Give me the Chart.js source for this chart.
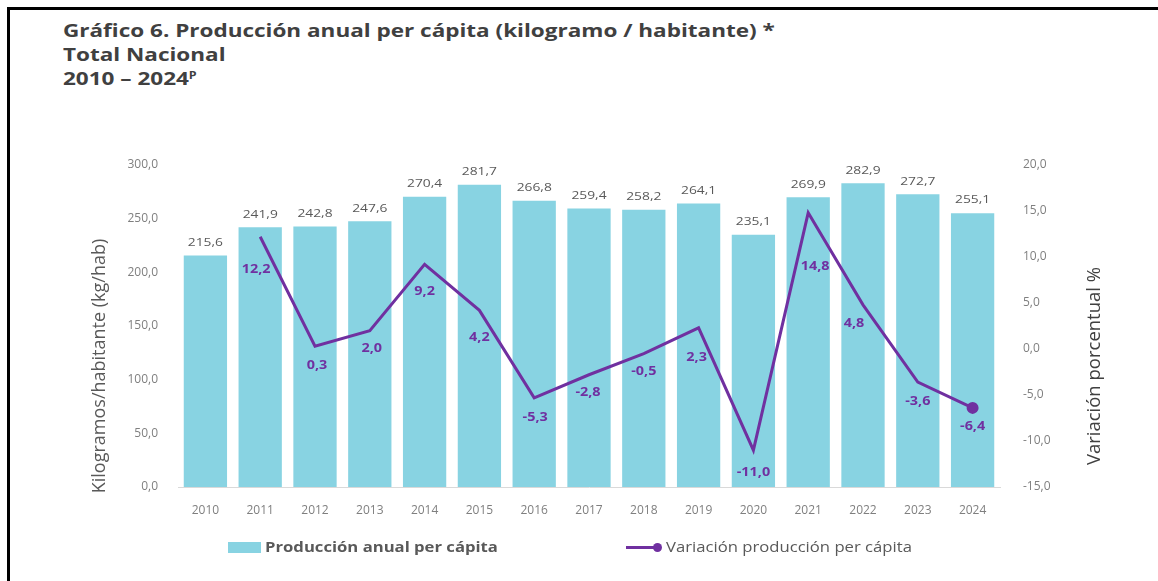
<!DOCTYPE html>
<html lang="es">
<head>
<meta charset="utf-8">
<title>Producción anual per cápita</title>
<script src="https://cdn.jsdelivr.net/npm/chart.js@4/dist/chart.umd.min.js"></script>
<style>
  html, body { margin: 0; padding: 0; background: #fff; }
  body { width: 1158px; height: 581px; position: relative; overflow: hidden; font-family: "Open Sans", sans-serif; }
  #frame { position: absolute; left: 7px; top: 7px; right: 0; bottom: 0; border-left: 3px solid #000; border-top: 3px solid #000; }
  #titulo { position: absolute; left: 63px; top: 18px; font-weight: bold; font-size: 18px; line-height: 24px; color: #404040;
            white-space: nowrap; transform: scaleX(1.25); transform-origin: 0 0; }
  #titulo sup { font-size: 10px; vertical-align: 6px; line-height: 0; }
  #chart { position: absolute; left: 0; top: 0; }
  .sw { position: absolute; }
  .txt { position: absolute; top: 537px; font-size: 14px; color: #595959; line-height: 20px; white-space: nowrap;
         transform: scaleX(1.19); transform-origin: 0 0; }
</style>
</head>
<body>
<div id="frame"></div>
<div id="titulo">Gráfico 6. Producción anual per cápita (kilogramo / habitante) *<br>Total Nacional<br>2010 – 2024<sup>P</sup></div>
<canvas id="chart" width="1158" height="581"></canvas>
<div class="sw" style="left:228px; top:542px; width:33px; height:11px; background:#88d3e2;"></div>
<div class="txt" style="left:265px; font-weight:bold;">Producción anual per cápita</div>
<div class="sw" style="left:626px; top:546px; width:31px; height:3px; background:#7030a0;"></div>
<div class="sw" style="left:653px; top:543px; width:9px; height:9px; border-radius:50%; background:#7030a0;"></div>
<div class="txt" style="left:666px;">Variación producción per cápita</div>
<script>
// --- Datos ---
const years = ['2010', '2011', '2012', '2013', '2014', '2015', '2016', '2017', '2018', '2019', '2020', '2021', '2022', '2023', '2024'];
const produccion = [215.6, 241.9, 242.8, 247.6, 270.4, 281.7, 266.8, 259.4, 258.2, 264.1, 235.1, 269.9, 282.9, 272.7, 255.1];
const variacion = [null, 12.2, 0.3, 2.0, 9.2, 4.2, -5.3, -2.8, -0.5, 2.3, -11.0, 14.8, 4.8, -3.6, -6.4];
const leftTicks = [0, 50, 100, 150, 200, 250, 300];
const rightTicks = [-15, -10, -5, 0, 5, 10, 15, 20];

// desplazamiento de las etiquetas de la línea (como en el original)
const labelOffsets = [[0, 0], [-4, 33], [2, 19], [2, 18], [0, 27], [0, 27], [1, 20], [-1, 18], [0, 18], [-2, 30], [0, 22], [7, 54], [-9, 19], [0, 19], [0, 19]];

const BAR_COLOR = '#88d3e2';
const LINE_COLOR = '#7030a0';
const fmt = v => v.toFixed(1).replace('.', ',');

// texto algo ensanchado, como en la imagen original
const wideText = (ctx, text, x, y, sx) => {
    ctx.save();
    ctx.translate(x, y);
    ctx.scale(sx, 1);
    ctx.fillText(text, 0, 0);
    ctx.restore();
};

// Etiquetas de valores + títulos de ejes
const labelsPlugin = {
    id: 'labels',
    afterDatasetsDraw(chart) {
        const ctx = chart.ctx;
        ctx.save();
        ctx.textAlign = 'center';
        ctx.textBaseline = 'middle';

        // barras
        ctx.font = '11.5px "Open Sans"';
        ctx.fillStyle = '#595959';
        chart.getDatasetMeta(0).data.forEach((el, i) => {
            wideText(ctx, fmt(produccion[i]), el.x, el.y - 13, 1.2);
        });

        // línea
        ctx.font = 'bold 12px "Open Sans"';
        ctx.fillStyle = LINE_COLOR;
        chart.getDatasetMeta(1).data.forEach((el, i) => {
            if (variacion[i] === null) return;
            const [dx, dy] = labelOffsets[i];
            wideText(ctx, fmt(variacion[i]), el.x + dx, el.y + dy, 1.2);
        });

        // títulos de ejes
        const area = chart.chartArea;
        const midY = (area.top + area.bottom) / 2 + 40;
        ctx.font = '18px "Open Sans"';
        ctx.fillStyle = '#595959';
        ctx.translate(area.left - 78, midY);
        ctx.rotate(-Math.PI / 2);
        ctx.fillText('Kilogramos/habitante (kg/hab)', 0, 0);
        ctx.setTransform(1, 0, 0, 1, 0, 0);
        ctx.font = '18.5px "Open Sans"';
        ctx.fillStyle = '#404040';
        ctx.translate(area.right + 95, midY);
        ctx.rotate(-Math.PI / 2);
        ctx.fillText('Variación porcentual %', 0, 0);
        ctx.restore();
    }
};

const tickFont = { family: 'Open Sans', size: 12 };

new Chart(document.getElementById('chart'), {
    type: 'bar',
    data: {
        labels: years,
        datasets: [{
            type: 'bar',
            label: 'Producción anual per cápita',
            data: produccion,
            backgroundColor: BAR_COLOR,
            yAxisID: 'y',
            barPercentage: 1,
            categoryPercentage: 0.79,
            order: 2
        }, {
            type: 'line',
            label: 'Variación producción per cápita',
            data: variacion,
            borderColor: LINE_COLOR,
            backgroundColor: LINE_COLOR,
            borderWidth: 3,
            tension: 0,
            pointRadius: ctx => ctx.dataIndex === variacion.length - 1 ? 4.5 : 0,
            pointHoverRadius: 0,
            yAxisID: 'y1',
            order: 1
        }]
    },
    options: {
        responsive: false,
        animation: false,
        layout: { padding: { top: 165, left: 68, right: 0, bottom: 0 } },
        plugins: { legend: { display: false }, tooltip: { enabled: false } },
        scales: {
            x: {
                grid: { display: false },
                border: { display: true, color: '#d9d9d9', width: 1 },
                ticks: { color: '#7f7f7f', font: tickFont, padding: 8, maxRotation: 0 },
                afterFit: s => { s.height = 94; }
            },
            y: {
                position: 'left',
                min: 0, max: 300,
                grid: { display: false },
                border: { display: false },
                afterBuildTicks: s => { s.ticks = leftTicks.map(v => ({ value: v })); },
                ticks: { color: '#7f7f7f', font: tickFont, padding: 12, callback: v => fmt(v) },
                afterFit: s => { s.width = 110; }
            },
            y1: {
                position: 'right',
                min: -15, max: 20,
                grid: { display: false },
                border: { display: false },
                afterBuildTicks: s => { s.ticks = rightTicks.map(v => ({ value: v })); },
                ticks: { color: '#7f7f7f', font: tickFont, padding: 15, callback: v => fmt(v) },
                afterFit: s => { s.width = 158; }
            }
        }
    },
    plugins: [labelsPlugin]
});
</script>
</body>
</html>
